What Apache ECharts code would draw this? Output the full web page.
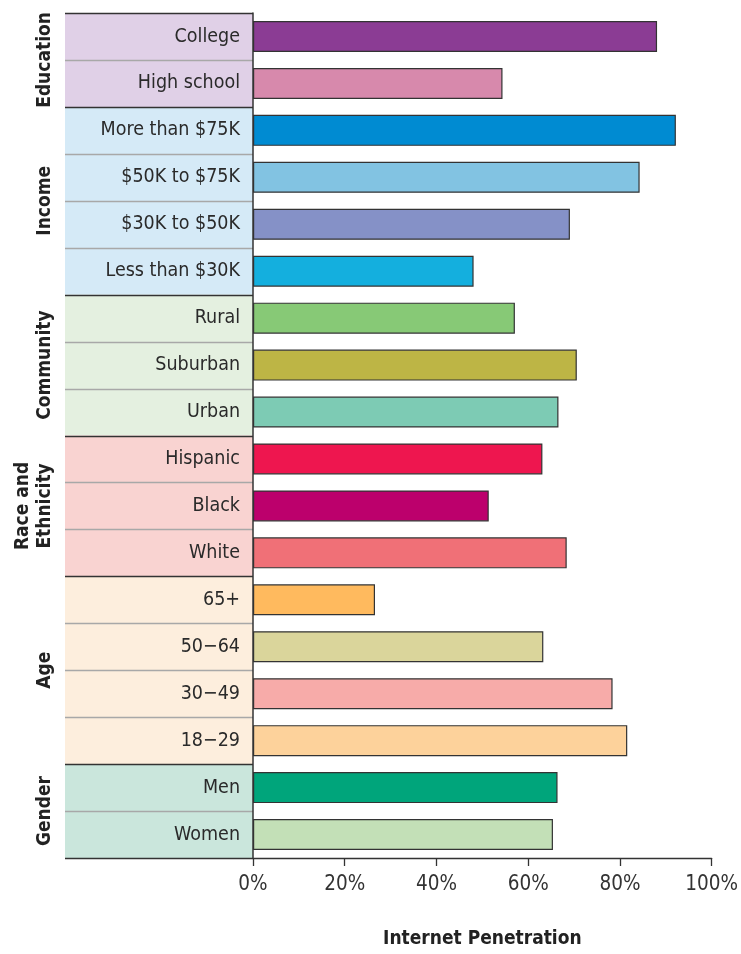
<!DOCTYPE html>
<html>
<head>
<meta charset="utf-8">
<script src="https://cdn.jsdelivr.net/npm/echarts@6/dist/echarts.min.js"></script>
<style>
html,body{margin:0;padding:0;background:#fff;width:100%;height:100%;overflow:hidden;}
#main{width:100vw;height:100vh;}
</style>
</head>
<body>
<div id="main"></div>
<script>
// ---- data ----
var categories = ['College','High school','More than $75K','$50K to $75K','$30K to $50K','Less than $30K',
  'Rural','Suburban','Urban','Hispanic','Black','White','65+','50\u221264','30\u221249','18\u221229','Men','Women'];
var values = [88.1, 54.4, 92.2, 84.3, 69.1, 48.1, 57.1, 70.6, 66.6, 63.1, 51.4, 68.4, 26.6, 63.3, 78.4, 81.6, 66.4, 65.4];
var groupNames = ['Education','Income','Community','Race and\nEthnicity','Age','Gender'];
var groupSizes = [2, 4, 3, 3, 4, 2];
var xTicks = [0, 20, 40, 60, 80, 100];

// ---- styles ----
var barColors = ['#8b3c94','#d789ac','#008bd2','#82c3e2','#8591c7','#14afde',
  '#87c976','#bdb545','#7dcbb4','#ee164f','#bc006c','#f07077',
  '#ffba5e','#dad59b','#f7aba9','#fdd29b','#00a57b','#c3e0b7'];
var groupBg = ['#e0d0e7','#d5eaf7','#e4f0e0','#f9d3d1','#fdeedd','#cae6dc'];
var FONT = '"DejaVu Sans Condensed","Liberation Sans Narrow","Liberation Sans",sans-serif';

var chart = echarts.init(document.getElementById('main'), null, {renderer:'canvas'});
var option = {
  animation: false,
  backgroundColor: '#fff',
  grid: {left: 253, right: 26, top: 13, bottom: 82, containLabel: false},
  xAxis: {
    type: 'value', min: 0, max: 100, interval: 20,
    axisLine: {show: true, lineStyle: {color: '#333', width: 1.3}},
    axisTick: {show: true, length: 8, lineStyle: {color: '#333', width: 1.3}},
    splitLine: {show: false},
    axisLabel: {formatter: function(v){ return xTicks.indexOf(v) >= 0 ? v + '%' : ''; },
      fontSize: 20.5, color: '#333', fontFamily: FONT, margin: 16},
    name: 'Internet Penetration', nameLocation: 'middle', nameGap: 72,
    nameTextStyle: {fontSize: 19, fontWeight: 'bold', color: '#222', fontFamily: FONT}
  },
  yAxis: {
    type: 'category', data: categories, inverse: true,
    axisLine: {show: true, onZero: false, lineStyle: {color: '#333', width: 1.5}},
    axisTick: {show: false},
    axisLabel: {fontSize: 19.5, color: '#2a2a2a', fontFamily: FONT, margin: 13},
    z: 5
  },
  series: [{
    type: 'bar',
    barCategoryGap: '34%',
    data: values.map(function(v, i){
      return {value: v, itemStyle: {color: barColors[i], borderColor: '#333', borderWidth: 1.2}};
    })
  }]
};
chart.setOption(option);

// label column backgrounds, separators and group labels, positioned through the y axis scale
var c0 = chart.convertToPixel({yAxisIndex: 0}, categories[0]);
var c1 = chart.convertToPixel({yAxisIndex: 0}, categories[1]);
var step = c1 - c0;
function boundary(i){ return chart.convertToPixel({yAxisIndex: 0}, categories[Math.min(i, categories.length-1)]) - step/2 + (i >= categories.length ? step : 0); }
var colL = 65, colR = 253;
var graphics = [];
var start = 0;
groupSizes.forEach(function(n, g){
  var y0 = boundary(start), y1 = boundary(start + n);
  graphics.push({type:'rect', z: -1, shape:{x: colL, y: y0, width: colR - colL, height: y1 - y0}, style:{fill: groupBg[g]}});
  for (var k = 1; k < n; k++){
    var yy = Math.round(boundary(start + k)) + 0.5;
    graphics.push({type:'line', z: 1, shape:{x1: colL, y1: yy, x2: colR, y2: yy}, style:{stroke:'#a8a8a8', lineWidth: 1.3}});
  }
  var lbl = groupNames[g];
  var twoLine = lbl.indexOf('\n') >= 0;
  graphics.push({type:'text', z: 2, x: twoLine ? 34 : 45, y: (y0 + y1)/2, rotation: Math.PI/2,
    style:{text: lbl, fontSize: 19, fontWeight:'bold', fill:'#222', fontFamily: FONT,
      align:'center', verticalAlign:'middle', lineHeight: 22}});
  start += n;
});
// dark group borders
start = 0;
for (var g = 0; g <= groupSizes.length; g++){
  var yb = Math.round(boundary(start)) + 0.5;
  graphics.push({type:'line', z: 3, shape:{x1: colL, y1: yb, x2: colR, y2: yb}, style:{stroke:'#333', lineWidth: 1.5}});
  if (g < groupSizes.length) start += groupSizes[g];
}
chart.setOption({graphic: graphics});
</script>
</body>
</html>
